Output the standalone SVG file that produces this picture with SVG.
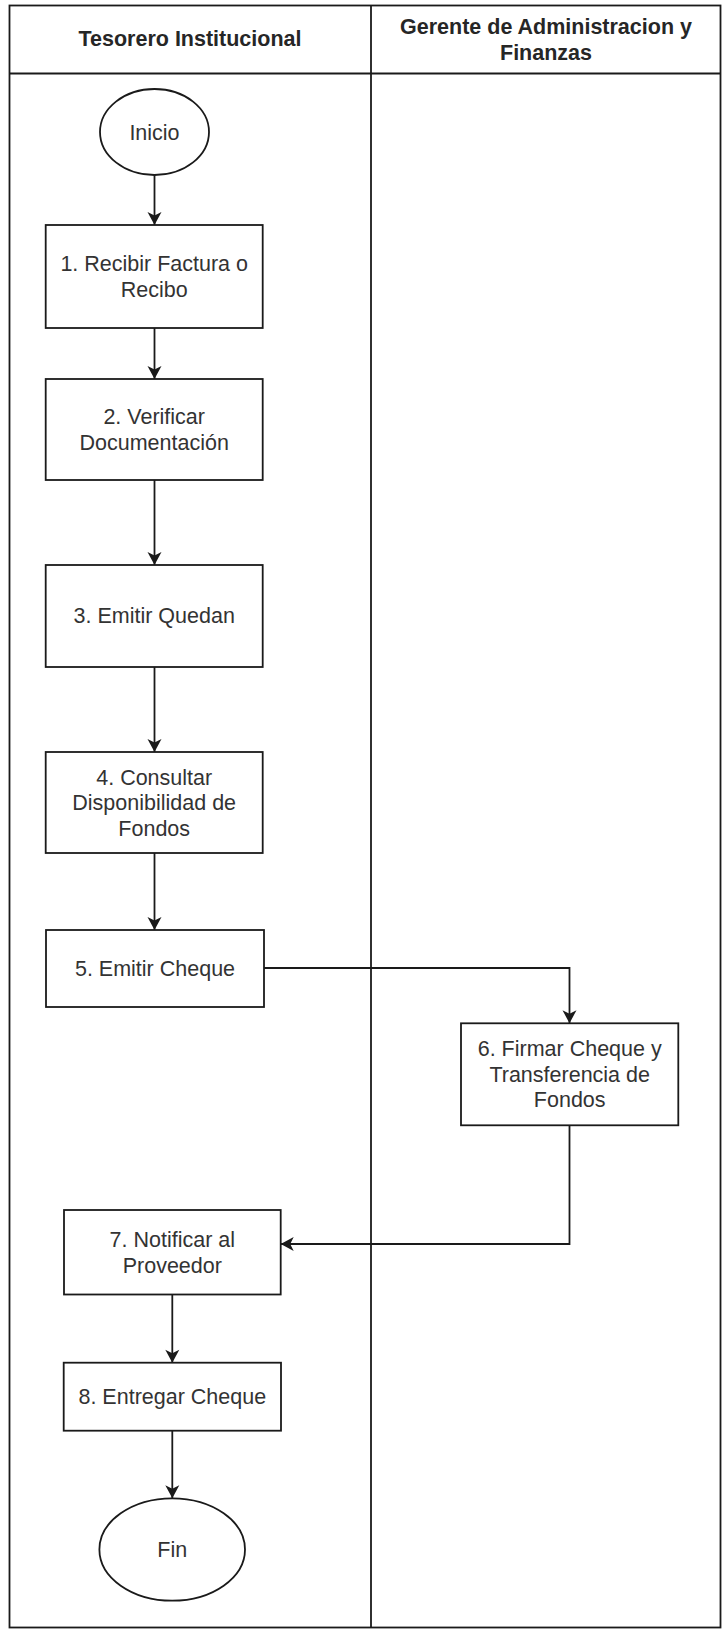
<svg xmlns="http://www.w3.org/2000/svg" width="722" height="1629" viewBox="0 0 722 1629">
<style>
.frame{fill:none;stroke:#1a1a1a;stroke-width:1.8}
.shape{fill:#ffffff;stroke:#1a1a1a;stroke-width:1.8}
.edge{fill:none;stroke:#1a1a1a;stroke-width:1.8}
.t{font-family:"Liberation Sans",Arial,sans-serif;font-size:21.5px;fill:#333333;text-anchor:middle}
.h{font-family:"Liberation Sans",Arial,sans-serif;font-size:21.5px;font-weight:bold;fill:#262626;text-anchor:middle}
</style>
<defs>
<marker id="arr" markerUnits="userSpaceOnUse" markerWidth="16" markerHeight="16" viewBox="-14 -8 16 16" refX="0" refY="0" orient="auto">
<path d="M0,0 L-13,-7 L-9.5,0 L-13,7 Z" fill="#1a1a1a"/>
</marker>
</defs>
<rect width="722" height="1629" fill="#ffffff"/>
<g id="pool">
<rect class="frame" x="9.5" y="5.5" width="711" height="1622"/>
<line class="frame" x1="9.5" y1="73.5" x2="720.5" y2="73.5"/>
<line class="frame" x1="371" y1="5.5" x2="371" y2="1627.5"/>
</g>
<g id="lane1-header">
<text class="h" x="190" y="46">Tesorero Institucional</text>
</g>
<g id="lane2-header">
<text class="h" x="546" y="34">Gerente de Administracion y</text>
<text class="h" x="546" y="59.5">Finanzas</text>
</g>
<g id="connectors">
<line class="edge" x1="154.5" y1="175" x2="154.5" y2="225" marker-end="url(#arr)"/>
<line class="edge" x1="154.5" y1="328" x2="154.5" y2="379" marker-end="url(#arr)"/>
<line class="edge" x1="154.5" y1="480" x2="154.5" y2="565" marker-end="url(#arr)"/>
<line class="edge" x1="154.5" y1="667" x2="154.5" y2="752" marker-end="url(#arr)"/>
<line class="edge" x1="154.5" y1="853" x2="154.5" y2="930" marker-end="url(#arr)"/>
<polyline class="edge" points="264,968 569.5,968 569.5,1023.3" marker-end="url(#arr)"/>
<polyline class="edge" points="569.5,1125.3 569.5,1244 280.7,1244" marker-end="url(#arr)"/>
<line class="edge" x1="172.3" y1="1294.5" x2="172.3" y2="1362.7" marker-end="url(#arr)"/>
<line class="edge" x1="172.3" y1="1430.7" x2="172.3" y2="1498.3" marker-end="url(#arr)"/>
</g>
<g id="inicio">
<ellipse class="shape" cx="154.5" cy="132" rx="54.5" ry="43"/>
<text class="t" x="154.5" y="139.7">Inicio</text>
</g>
<g id="n1">
<rect class="shape" x="45.7" y="225" width="217" height="103"/>
<text class="t" x="154.2" y="271.4">1. Recibir Factura o</text>
<text class="t" x="154.2" y="296.9">Recibo</text>
</g>
<g id="n2">
<rect class="shape" x="45.7" y="379" width="217" height="101"/>
<text class="t" x="154.2" y="424.4">2. Verificar</text>
<text class="t" x="154.2" y="449.9">Documentación</text>
</g>
<g id="n3">
<rect class="shape" x="45.7" y="565" width="217" height="102"/>
<text class="t" x="154.2" y="623.4">3. Emitir Quedan</text>
</g>
<g id="n4">
<rect class="shape" x="45.7" y="752" width="217" height="101"/>
<text class="t" x="154.2" y="784.7">4. Consultar</text>
<text class="t" x="154.2" y="810.2">Disponibilidad de</text>
<text class="t" x="154.2" y="835.7">Fondos</text>
</g>
<g id="n5">
<rect class="shape" x="46" y="930" width="218" height="77"/>
<text class="t" x="155" y="976">5. Emitir Cheque</text>
</g>
<g id="n6">
<rect class="shape" x="461" y="1023.3" width="217.3" height="102"/>
<text class="t" x="569.7" y="1056.3">6. Firmar Cheque y</text>
<text class="t" x="569.7" y="1081.8">Transferencia de</text>
<text class="t" x="569.7" y="1107.3">Fondos</text>
</g>
<g id="n7">
<rect class="shape" x="64" y="1210" width="216.7" height="84.5"/>
<text class="t" x="172.3" y="1247.3">7. Notificar al</text>
<text class="t" x="172.3" y="1272.8">Proveedor</text>
</g>
<g id="n8">
<rect class="shape" x="63.7" y="1362.7" width="217.3" height="68"/>
<text class="t" x="172.3" y="1404.4">8. Entregar Cheque</text>
</g>
<g id="fin">
<ellipse class="shape" cx="172.2" cy="1549.5" rx="72.8" ry="51.2"/>
<text class="t" x="172.2" y="1557.2">Fin</text>
</g>
</svg>
